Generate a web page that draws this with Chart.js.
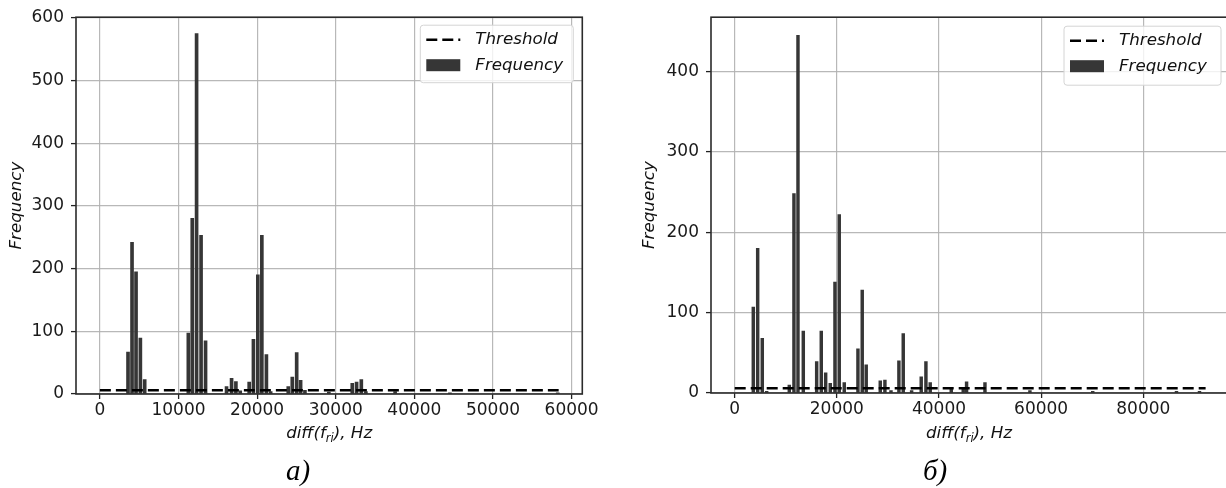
<!DOCTYPE html>
<html>
<head>
<meta charset="utf-8">
<script src="https://cdn.jsdelivr.net/npm/chart.js@4.4.1/dist/chart.umd.min.js"></script>
<style>
  html, body { margin: 0; padding: 0; background: #fff; overflow: hidden; width: 1226px; height: 488px; }
  canvas { position: absolute; top: 0; }
  #chartA { left: 0; }
  #chartB { left: 633px; }
  .cap { position: absolute; top: 456px; font: italic 29px "Liberation Serif", serif; line-height: 29px; transform: translateX(-50%); color: #000; }
</style>
</head>
<body>
<canvas id="chartA" width="600" height="488"></canvas>
<canvas id="chartB" width="607" height="488"></canvas>
<div class="cap" style="left:298px">а)</div>
<div class="cap" style="left:935px">б)</div>
<script>
// panel а)
const binsA = [3580, 4090, 4600, 5150, 5700, 11250, 11750, 12300, 12870, 13440, 16110, 16750, 17300, 17850,
  18990, 19530, 20090, 20600, 21180, 21720, 23960, 24470, 25030, 25530, 26080, 29120, 32100, 32650, 33250,
  33830, 37550, 44520, 58230];
const freqA = [67, 242, 195, 89, 23, 97, 280, 575, 253, 85, 12, 25, 20, 5,
  19, 87, 190, 253, 63, 4, 12, 27, 66, 22, 6, 3, 17, 19, 23,
  4, 4, 2, 2];
const thrXA = [0, 58350];
const thrYA = [6, 6];
const xTicksA = [0, 10000, 20000, 30000, 40000, 50000, 60000];
const yTicksA = [0, 100, 200, 300, 400, 500, 600];

// panel б)
const binsB = [3640, 4500, 5400, 6260, 10690, 11600, 12390, 13430, 16050, 16950, 17810, 18710, 19630, 20470,
  21450, 24130, 24970, 25750, 28500, 29410, 30600, 32150, 33000, 34640, 36520, 37440, 38280, 42400, 44740,
  45400, 49000, 57800, 70100, 86500, 91000];
const freqB = [107, 180, 68, 2, 10, 248, 445, 77, 39, 77, 25, 12, 138, 222,
  13, 55, 128, 35, 15, 16, 3, 40, 74, 3, 20, 39, 13, 5, 5,
  14, 13, 3, 2, 2, 2];
const thrXB = [0, 92200];
const thrYB = [6, 6];
const xTicksB = [0, 20000, 40000, 60000, 80000];
const yTicksB = [0, 100, 200, 300, 400];

const FONT = 'DejaVu Sans';

// box around the plot area
const frame = {
  id: 'frame',
  afterDraw(chart) {
    const { ctx, chartArea: a } = chart;
    ctx.save();
    ctx.strokeStyle = '#2b2b2b';
    ctx.lineWidth = 1.6;
    ctx.strokeRect(a.left, a.top, a.right - a.left, a.bottom - a.top);
    ctx.restore();
  }
};

// matplotlib-like legend inside the plot
const boxLegend = {
  id: 'boxLegend',
  afterDraw(chart, args, o) {
    const { ctx, chartArea: a } = chart;
    const x = a.right - o.right - o.width, y = a.top + o.top;
    ctx.save();
    ctx.beginPath();
    ctx.roundRect(x, y, o.width, o.height, 3);
    ctx.fillStyle = 'rgba(255,255,255,0.8)';
    ctx.fill();
    ctx.strokeStyle = '#d4d4d4';
    ctx.lineWidth = 1;
    ctx.stroke();
    ctx.font = 'italic 16.7px "' + FONT + '"';
    ctx.textBaseline = 'middle';
    chart.data.datasets.forEach((ds, i) => {
      const cy = y + 14.5 + i * 25.5;
      const sx = x + 6;
      if (ds.type === 'line') {
        ctx.beginPath();
        ctx.setLineDash(ds.borderDash);
        ctx.strokeStyle = ds.borderColor;
        ctx.lineWidth = ds.borderWidth;
        ctx.moveTo(sx, cy);
        ctx.lineTo(sx + 34, cy);
        ctx.stroke();
        ctx.setLineDash([]);
      } else {
        ctx.fillStyle = ds.backgroundColor;
        ctx.fillRect(sx, cy - 6, 34, 12);
      }
      ctx.fillStyle = '#111';
      ctx.fillText(ds.label, sx + 49, cy);
    });
    ctx.restore();
  }
};

// x axis title with subscript
const xTitle = {
  id: 'xTitle',
  afterDraw(chart, args, o) {
    const { ctx, chartArea: a } = chart;
    const big = 'italic 16.7px "' + FONT + '"', small = 'italic 11.5px "' + FONT + '"';
    const parts = [['diff(f', big, 0], ['ri', small, 3.5], ['), Hz', big, 0]];
    ctx.save();
    ctx.fillStyle = '#111';
    ctx.textBaseline = 'alphabetic';
    let total = 0;
    parts.forEach(p => { ctx.font = p[1]; total += ctx.measureText(p[0]).width; });
    let cx = (a.left + a.right) / 2 - total / 2;
    parts.forEach(p => {
      ctx.font = p[1];
      ctx.fillText(p[0], cx, o.y + p[2]);
      cx += ctx.measureText(p[0]).width;
    });
    ctx.restore();
  }
};

function build(id, bins, freq, thrX, thrY, xTicks, yTicks, v) {
  const grid = { color: 'rgba(176,176,176,0.9)', lineWidth: 1.2, tickLength: 5, tickColor: '#222', tickWidth: 1.3, offset: false };
  const tickFont = { family: FONT, size: 17 };
  new Chart(document.getElementById(id), {
    type: 'bar',
    data: {
      datasets: [
        {
          type: 'line', label: 'Threshold',
          data: thrX.map((x, i) => ({ x, y: thrY[i] })),
          borderColor: '#000', borderWidth: 2.5, borderDash: [11, 5],
          pointRadius: 0, fill: false
        },
        {
          label: 'Frequency',
          data: bins.map((x, i) => ({ x, y: freq[i] })),
          backgroundColor: '#363636', borderWidth: 0, barThickness: v.bar
        }
      ]
    },
    options: {
      responsive: false,
      animation: false,
      events: [],
      layout: { padding: v.pad },
      plugins: {
        legend: { display: false },
        tooltip: { enabled: false },
        boxLegend: v.legend,
        xTitle: { y: 438 }
      },
      scales: {
        x: {
          type: 'linear', min: v.xMin, max: v.xMax, offset: false,
          afterBuildTicks: s => { s.ticks = xTicks.map(value => ({ value })); },
          afterFit: s => { s.height = 60; },
          grid, border: { display: false },
          ticks: { font: tickFont, color: '#1a1a1a', padding: 1, maxRotation: 0, autoSkip: false, callback: val => String(val) }
        },
        y: {
          min: 0, max: v.yMax,
          afterBuildTicks: s => { s.ticks = yTicks.map(value => ({ value })); },
          afterFit: s => { s.width = v.yw; },
          grid, border: { display: false },
          ticks: { font: tickFont, color: '#1a1a1a', padding: 7, callback: val => String(val) },
          title: { display: true, text: 'Frequency', color: '#111', padding: { top: 7, bottom: 0 },
                   font: { family: FONT, size: 16.7, style: 'italic' } }
        }
      }
    },
    plugins: [frame, boxLegend, xTitle]
  });
}

build('chartA', binsA, freqA, thrXA, thrYA, xTicksA, yTicksA, {
  bar: 3, xMin: -3036, xMax: 61354, yMax: 601, yw: 76,
  pad: { left: 0, right: 15, top: 16, bottom: 34 },
  legend: { right: 9, top: 8, width: 153, height: 57.5 }
});
build('chartB', binsB, freqB, thrXB, thrYB, xTicksB, yTicksB, {
  bar: 2.8, xMin: -4640, xMax: 96388, yMax: 467.5, yw: 78,
  pad: { left: 0, right: 13, top: 7, bottom: 35 },
  legend: { right: 6, top: 9, width: 157, height: 59 }
});
</script>
</body>
</html>
